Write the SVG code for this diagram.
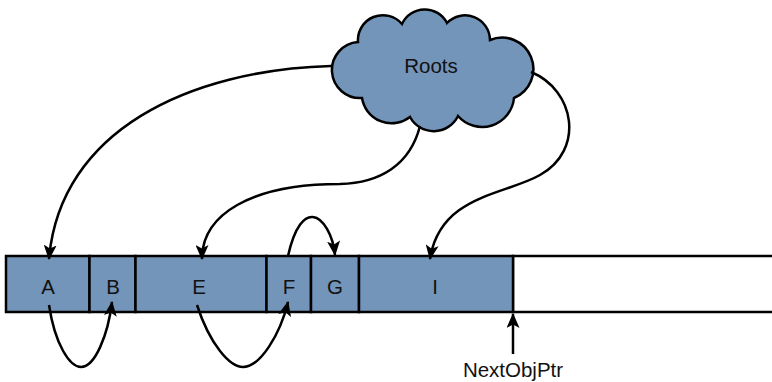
<svg xmlns="http://www.w3.org/2000/svg" width="772" height="382" viewBox="0 0 772 382">
<style>
.cell{fill:#7395b9;stroke:#000;stroke-width:2.5}
.free{fill:#fff;stroke:#000;stroke-width:2.5}
.lbl{font-family:"Liberation Sans",Arial,sans-serif;font-size:20.5px;fill:#111;text-anchor:middle}
.con{fill:none;stroke:#000;stroke-width:2.5}
</style>
<defs>
<marker id="ah" viewBox="0 0 15 13" markerWidth="15" markerHeight="13" refX="14" refY="6.5" orient="auto" markerUnits="userSpaceOnUse">
<path d="M0,0 L15,6.5 L0,13 L3.5,6.5 z" fill="#000"/>
</marker>
</defs>
<g id="roots">
<path class="cell" d="M362,98 A28,28 0 0 1 358,42 A25,25 0 0 1 402,24 A25,25 0 0 1 447,23 A25,25 0 0 1 490,40 A30,30 0 0 1 514,98 A32,32 0 0 1 458,116 A27,27 0 0 1 410,117 A30,30 0 0 1 362,98 z"/>
<text class="lbl" x="431" y="73">Roots</text>
</g>
<g id="free"><rect class="free" x="513" y="256" width="270" height="56"/></g>
<g id="A"><rect class="cell" x="6" y="256" width="83.5" height="56"/><text class="lbl" x="48" y="294">A</text></g>
<g id="B"><rect class="cell" x="89.5" y="256" width="46" height="56"/><text class="lbl" x="113" y="294">B</text></g>
<g id="E"><rect class="cell" x="135.5" y="256" width="131" height="56"/><text class="lbl" x="199" y="294">E</text></g>
<g id="F"><rect class="cell" x="266.5" y="256" width="44.5" height="56"/><text class="lbl" x="289" y="294">F</text></g>
<g id="G"><rect class="cell" x="311" y="256" width="48" height="56"/><text class="lbl" x="335" y="294">G</text></g>
<g id="I"><rect class="cell" x="359" y="256" width="154" height="56"/><text class="lbl" x="435" y="294">I</text></g>
<g id="nextobjptr"><text class="lbl" x="513" y="377">NextObjPtr</text></g>
<g id="connectors">
<path class="con" marker-end="url(#ah)" d="M331,66 C190,70 60,130 49,259"/>
<path class="con" marker-end="url(#ah)" d="M420,126 C410,165 380,183 340,184 C250,184 202,215 202,259"/>
<path class="con" marker-end="url(#ah)" d="M531,72 C575,90 585,150 540,175 C505,195 440,195 430,259"/>
<path class="con" marker-end="url(#ah)" d="M288,256 C295,225 305,216 313,217 C323,218 333,235 335,255"/>
<path class="con" marker-end="url(#ah)" d="M49,305 C55,345 70,367 81,367 C95,367 108,335 112,302"/>
<path class="con" marker-end="url(#ah)" d="M197,305 C210,345 230,367 243,367 C260,367 280,335 288,302"/>
<path class="con" marker-end="url(#ah)" d="M513,354 L513,314"/>
</g>
</svg>
